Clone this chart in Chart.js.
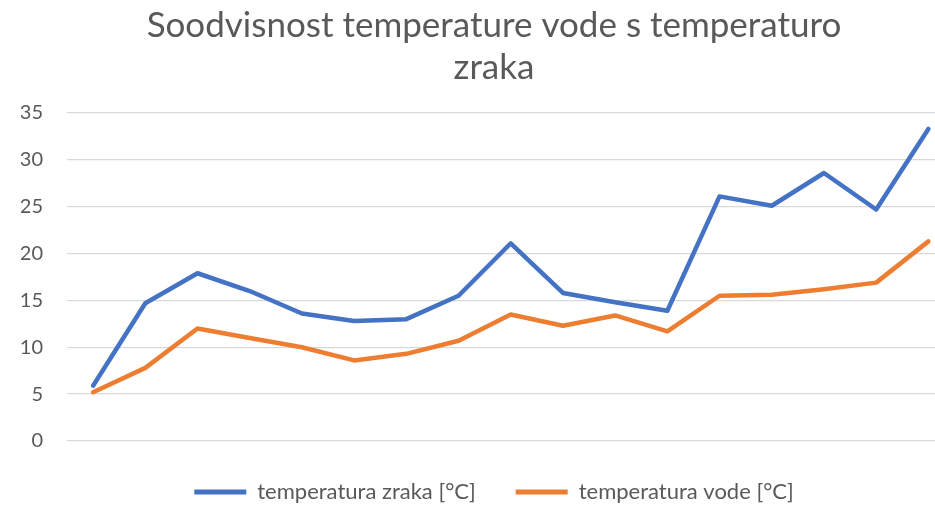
<!DOCTYPE html>
<html lang="sl">
<head>
    <meta charset="UTF-8">
    <title>Soodvisnost temperature vode s temperaturo zraka</title>
    <style>
        html, body {
            margin: 0;
            padding: 0;
            background: #ffffff;
            overflow: hidden;
        }

        .chart-container {
            position: relative;
            width: 967px;
            height: 513px;
        }
    </style>
</head>
<body>
    <div class="chart-container">
        <canvas id="tempChart"></canvas>
    </div>

    <script src="https://cdn.jsdelivr.net/npm/chart.js"></script>
    <script>
        // 17 measurements, x axis has no visible labels
        const meritve = [1, 2, 3, 4, 5, 6, 7, 8, 9, 10, 11, 12, 13, 14, 15, 16, 17];
        const tempZraka = [5.9, 14.7, 17.9, 16.0, 13.6, 12.8, 13.0, 15.5, 21.1, 15.8, 14.8, 13.9, 26.1, 25.1, 28.6, 24.7, 33.3];
        const tempVode = [5.2, 7.8, 12.0, 11.0, 10.0, 8.6, 9.3, 10.7, 13.5, 12.3, 13.4, 11.7, 15.5, 15.6, 16.2, 16.9, 21.3];
        const yTicks = [0, 5, 10, 15, 20, 25, 30, 35];

        const fontFamily = "Lato, 'Open Sans', sans-serif";
        const textColor = "#595959";

        // the original chart is cut off on the right, so the x range runs a bit past the last point
        const toPoints = values => values.map((v, i) => ({ x: meritve[i] - 1, y: v }));

        const ctx = document.getElementById("tempChart").getContext("2d");

        new Chart(ctx, {
            type: "line",
            data: {
                datasets: [
                    {
                        label: "temperatura zraka [°C]",
                        data: toPoints(tempZraka),
                        borderColor: "#4472C4",
                        backgroundColor: "#4472C4",
                        borderWidth: 4.5,
                        pointRadius: 0,
                        tension: 0,
                        borderCapStyle: "round",
                        borderJoinStyle: "round"
                    },
                    {
                        label: "temperatura vode [°C]",
                        data: toPoints(tempVode),
                        borderColor: "#ED7D31",
                        backgroundColor: "#ED7D31",
                        borderWidth: 4.5,
                        pointRadius: 0,
                        tension: 0,
                        borderCapStyle: "round",
                        borderJoinStyle: "round"
                    }
                ]
            },
            options: {
                responsive: true,
                maintainAspectRatio: false,
                animation: false,
                layout: {
                    padding: { left: 21, right: 0, top: 0, bottom: 0 }
                },
                plugins: {
                    title: {
                        display: true,
                        text: ["Soodvisnost temperature vode s temperaturo", "zraka"],
                        color: textColor,
                        font: { family: fontFamily, size: 35, weight: "normal", lineHeight: 1.2 },
                        padding: { top: 5, bottom: 24 }
                    },
                    legend: {
                        display: true,
                        position: "bottom",
                        labels: {
                            color: textColor,
                            font: { family: fontFamily, size: 22 },
                            boxWidth: 52,
                            boxHeight: 5,
                            padding: 40,
                            generateLabels: chart => Chart.defaults.plugins.legend.labels.generateLabels(chart).map(l => ({ ...l, lineWidth: 0 }))
                        }
                    },
                    tooltip: { enabled: false }
                },
                scales: {
                    x: {
                        type: "linear",
                        min: -0.5,
                        max: 16.74,
                        ticks: { display: false },
                        grid: { display: false, drawTicks: false },
                        border: { display: false }
                    },
                    y: {
                        min: 0,
                        max: 35,
                        afterBuildTicks: axis => { axis.ticks = yTicks.map(v => ({ value: v })); },
                        afterFit: axis => { axis.width = 46; },
                        ticks: {
                            color: textColor,
                            font: { family: fontFamily, size: 20 },
                            padding: 24
                        },
                        grid: { color: "#D9D9D9", lineWidth: 1.3, drawTicks: false },
                        border: { display: false }
                    }
                }
            }
        });
    </script>
</body>
</html>
